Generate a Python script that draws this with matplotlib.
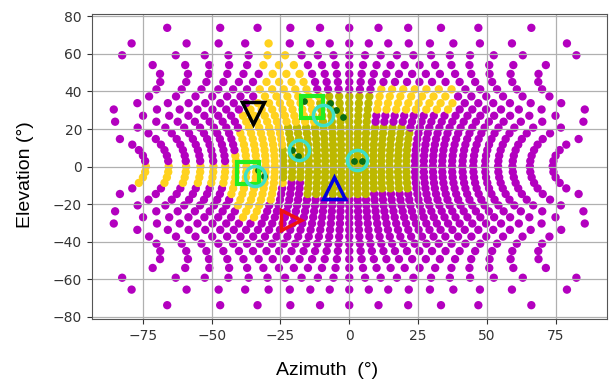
import numpy as np
import matplotlib
matplotlib.use("Agg")
import matplotlib.pyplot as plt
from matplotlib.path import Path

# direction-cosine grid levels (u and v), read from the row/column spacing
GRID_LEVELS = [-0.961, -0.911, -0.860, -0.810, -0.759, -0.708, -0.658, -0.607,
               -0.556, -0.506, -0.455, -0.405, -0.354, -0.304, -0.253, -0.202,
               -0.152, -0.101, -0.051, 0.0, 0.051, 0.101, 0.152, 0.202, 0.253,
               0.304, 0.354, 0.405, 0.455, 0.506, 0.556, 0.607, 0.658, 0.708,
               0.759, 0.810, 0.860, 0.911, 0.961]

# outline of the gold area (azimuth, elevation)
GOLD_AZ = [-78.7, -76.2, -42.7, -39.8, -34.4, -31.8, -30.8, -26.0, -18.0, -11.5,
           7.4, 8.1, 38.7, 38.7, 8.1, -1.7, -7.1, -23.5, -29.7, -33.3, -39.8,
           -43.5, -46.4, -76.2]
GOLD_EL = [-4.8, 0.5, 0.5, 24.9, 35.4, 56.6, 67.2, 67.2, 56.6, 39.7,
           39.7, 42.9, 42.9, 28.6, 28.6, 23.8, 3.7, -9.5, -20.1, -29.1, -29.1,
           -17.5, -10.1, -10.1]

# outline of the olive area
OLIVE_AZ = [-24.2, -11.5, -10.8, 7.4, 8.1, 18.3, 22.7, 22.7, 11.1, 2.0, -15.1, -16.2, -24.2]
OLIVE_EL = [23.8, 23.8, 39.7, 39.7, 22.5, 22.5, 18.5, -12.2, -13.2, -16.4, -16.4, -5.8, -5.8]

# dark green points
GREEN_AZ = [-16.6, -7.1, -4.9, -2.4, -20.9, -18.8, 1.6, 4.5, -33.3, -31.1]
GREEN_EL = [34.9, 33.9, 30.2, 26.5, 9.0, 5.8, 3.2, 3.2, -1.6, -5.3]

# markers
SQUARE_AZ = [-13.7, -36.9]
SQUARE_EL = [31.7, -3.2]
CIRCLE_AZ = [-9.7, -18.4, 2.7, -34.4]
CIRCLE_EL = [27.5, 9.0, 3.7, -5.3]
TRI_DOWN = (-35.1, 28.6)
TRI_UP = (-5.7, -11.6)
TRI_RIGHT = (-21.3, -28.6)

# grid points in az/el
uu, vv = np.meshgrid(GRID_LEVELS, GRID_LEVELS)
uu, vv = uu.ravel(), vv.ravel()
keep = uu**2 + vv**2 < 1
uu, vv = uu[keep], vv[keep]
el = np.degrees(np.arcsin(vv))
az = np.degrees(np.arcsin(uu / np.cos(np.radians(el))))

pts = np.column_stack([az, el])
colors = np.array(["#b300bf"] * len(pts), dtype=object)
gold_path = Path(np.column_stack([GOLD_AZ, GOLD_EL]))
olive_path = Path(np.column_stack([OLIVE_AZ, OLIVE_EL]))
colors[gold_path.contains_points(pts)] = "#ffd21f"
colors[olive_path.contains_points(pts)] = "#bdb800"

fig = plt.figure(figsize=(6.16, 3.85), dpi=100)
ax = fig.add_axes([0.149, 0.171, 0.836, 0.793])

ax.scatter(az, el, s=36, c=list(colors), linewidths=0)
ax.scatter(GREEN_AZ, GREEN_EL, s=24, c="#0a6e14", linewidths=0)

ax.plot(SQUARE_AZ, SQUARE_EL, "s", ms=16, mfc="none", mec="#22ee22", mew=3)
ax.plot(CIRCLE_AZ, CIRCLE_EL, "o", ms=14.5, mfc="none", mec="#3de0c8", mew=2.5)
ax.plot(*TRI_DOWN, "v", ms=16, mfc="none", mec="black", mew=2.5)
ax.plot(*TRI_UP, "^", ms=16, mfc="none", mec="#0000e0", mew=2.5)
ax.plot(*TRI_RIGHT, ">", ms=15, mfc="none", mec="#ee1111", mew=2.5)

ax.set_xlim(-93.6, 93.6)
ax.set_ylim(-81.4, 81.4)
ax.set_xticks([-75, -50, -25, 0, 25, 50, 75])
ax.set_yticks([-80, -60, -40, -20, 0, 20, 40, 60, 80])
ax.tick_params(labelsize=10, colors="#333333")
ax.grid(True, color="#b0b0b0", lw=0.9)
for sp in ax.spines.values():
    sp.set_color("#555555")

ax.set_xlabel("Azimuth  (°)", fontsize=14, family="Liberation Sans")
ax.xaxis.set_label_coords(0.456, -0.14)
ax.set_ylabel("Elevation (°)", fontsize=14, family="Liberation Sans")
ax.yaxis.set_label_coords(-0.112, 0.475)

fig.savefig("out.png", dpi=100)
